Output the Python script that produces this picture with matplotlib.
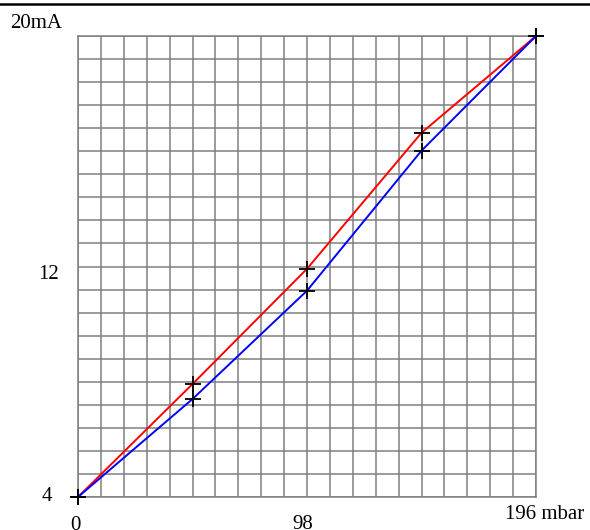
import matplotlib
matplotlib.use("Agg")
import matplotlib.pyplot as plt
import numpy as np

# pressure (mbar) vs. current (mA)
pressure = [0, 49, 98, 147, 196]
current_red = [4.0, 7.92, 11.92, 16.64, 20.0]
current_blue = [4.0, 7.40, 11.16, 16.02, 20.0]

x_min, x_max, x_div = 0, 196, 20
y_min, y_max, y_div = 4, 20, 20

plt.rcParams['font.family'] = ['Liberation Serif', 'DejaVu Serif']

fig = plt.figure(figsize=(5.9, 5.3), dpi=100)
ax = fig.add_axes([78/590, 1-497/530, (536-78)/590, (497-36)/530])

ax.set_xlim(x_min, x_max)
ax.set_ylim(y_min, y_max)
ax.set_xticks(np.linspace(x_min, x_max, x_div + 1))
ax.set_yticks(np.linspace(y_min, y_max, y_div + 1))
ax.tick_params(length=0, labelbottom=False, labelleft=False)
ax.grid(True, color='#808080', linewidth=1.1)
for s in ax.spines.values():
    s.set_color('#808080')
    s.set_linewidth(1.1)

ax.plot(pressure, current_red, color='red', lw=1.4, clip_on=False, zorder=3)
ax.plot(pressure, current_blue, color='blue', lw=1.4, clip_on=False, zorder=3)
ax.plot(pressure, current_red, ls='none', marker='+', ms=11, mew=1.3,
        color='black', clip_on=False, zorder=4)
ax.plot(pressure, current_blue, ls='none', marker='+', ms=11, mew=1.3,
        color='black', clip_on=False, zorder=4)

kw = dict(fontsize=15, ha='center', va='center', clip_on=False)
ax.text(-18, 20.45, '20mA', **kw)
ax.text(-12.6, 11.72, '12', **kw)
ax.text(-13.2, 4.02, '4', **kw)
ax.text(-1.1, 3.0, '0', **kw)
ax.text(96, 3.05, '98', **kw)
ax.text(199.5, 3.4, '196 mbar', **kw)

# rule across the top
fig.add_artist(plt.Line2D([0, 1], [1-4/530, 1-4/530], color='black', lw=1.8))

fig.savefig('out.png', dpi=100)
